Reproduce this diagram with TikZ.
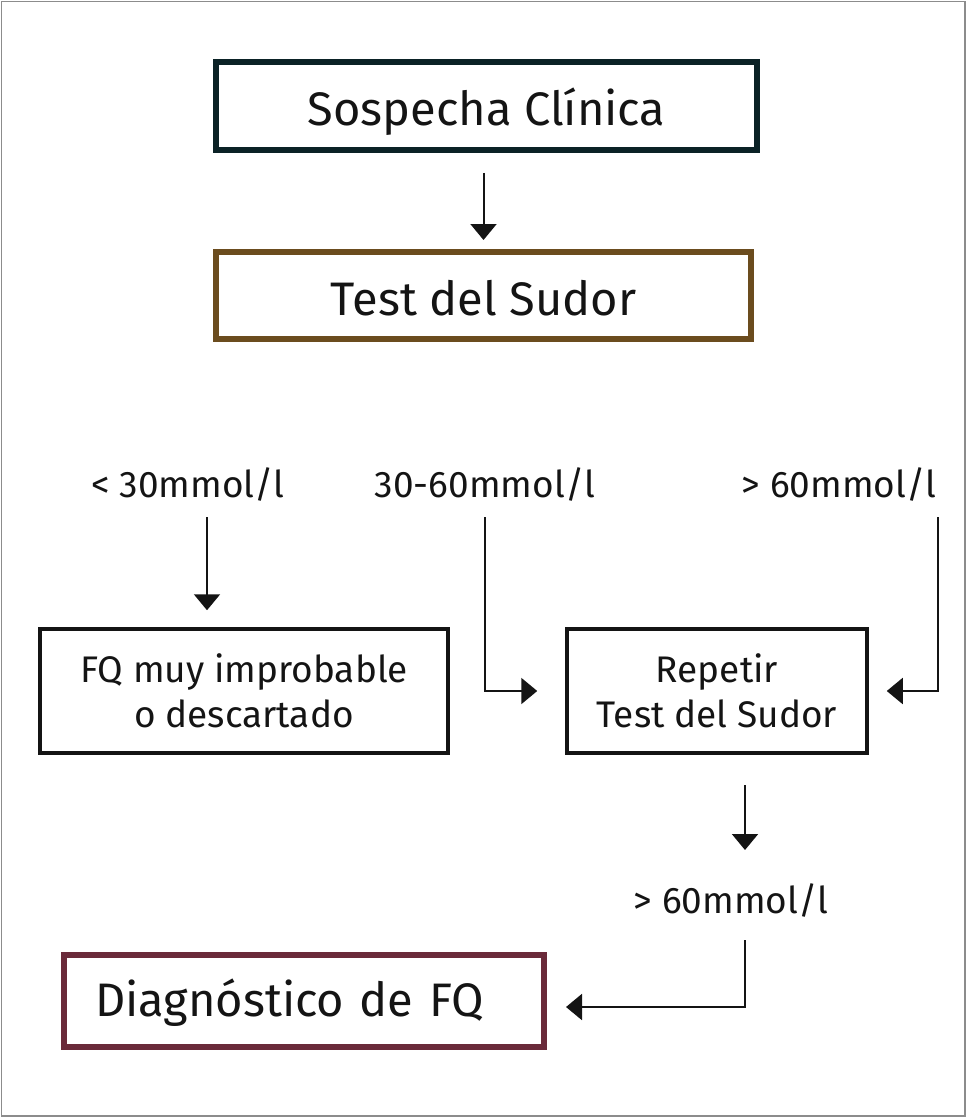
\documentclass[tikz,border=0pt]{standalone}
\usepackage{fontspec}
\setmainfont{Fira Sans}
\usetikzlibrary{arrows.meta,positioning,calc}
\definecolor{boxteal}{HTML}{0B2226}
\definecolor{boxbrown}{HTML}{6B4C1E}
\definecolor{boxwine}{HTML}{6A2A3A}
\definecolor{inkblack}{HTML}{141414}
\tikzstyle{mainbox} = [draw, line width=6pt, rectangle, text=inkblack,
    text height=40pt, text depth=-4pt, font=\fontsize{47}{56}\selectfont]
\tikzstyle{stepbox} = [draw=inkblack, line width=3.5pt, rectangle, text=inkblack, align=center,
    font=\fontsize{37}{45}\selectfont]
\tikzstyle{limit} = [text=inkblack, font=\fontsize{37}{44}\selectfont]
\tikzstyle{arrow} = [draw=inkblack, line width=2pt, -{Triangle[length=16pt,width=26pt]}]

\begin{document}
\begin{tikzpicture}[x=1pt,y=-1pt]
\useasboundingbox (0,0) rectangle (969,1118);
\draw[black!45, line width=1.5pt] (1.5,1.5) rectangle (965,1116);
% boxes
\node[mainbox, draw=boxteal, minimum width=541pt, minimum height=88pt] (sospecha) at (486.5,106) {Sospecha Clínica};
\node[mainbox, draw=boxbrown, minimum width=535pt, minimum height=87pt] (test) at (483.5,295.5) {Test del Sudor};
\node[stepbox, minimum width=408pt, minimum height=124pt] (fq) at (244,691) {FQ muy improbable\\o descartado};
\node[stepbox, minimum width=300pt, minimum height=124pt] (repetir) at (717,691) {Repetir\\Test del Sudor};
\node[mainbox, draw=boxwine, minimum width=480pt, minimum height=92pt, text width=418pt, align=left, inner xsep=31pt,
    text height=34pt, text depth=3pt] (diag) at (304,1001) {Diagnóstico de FQ};
% limits
\node[limit] (low) at (188,484) {< 30mmol/l};
\node[limit] (mid) at (485,484) {30-60mmol/l};
\node[limit] (high) at (839,484) {> 60mmol/l};
\node[limit] (again) at (731,900) {> 60mmol/l};
% connectors
\coordinate (lowstart) at (207,517);
\coordinate (midstart) at (485,517);
\coordinate (highstart) at (938,517);
\coordinate (downstart) at (745,785);
\coordinate (downend) at (745,850);
\coordinate (diagstart) at (745,940);
\draw[arrow, shorten <=20pt, shorten >=9pt] (test.north |- sospecha.south) -- (test.north);
\draw[arrow, shorten >=17pt] (lowstart) -- (lowstart |- fq.north);
\draw[arrow, shorten >=28pt] (midstart) |- (repetir.west);
\draw[arrow, shorten >=18pt] (highstart) |- (repetir.east);
\draw[arrow] (downstart) -- (downend);
\draw[arrow, shorten >=19pt] (diagstart) |- ([yshift=-6pt]diag.east);
\end{tikzpicture}
\end{document}
